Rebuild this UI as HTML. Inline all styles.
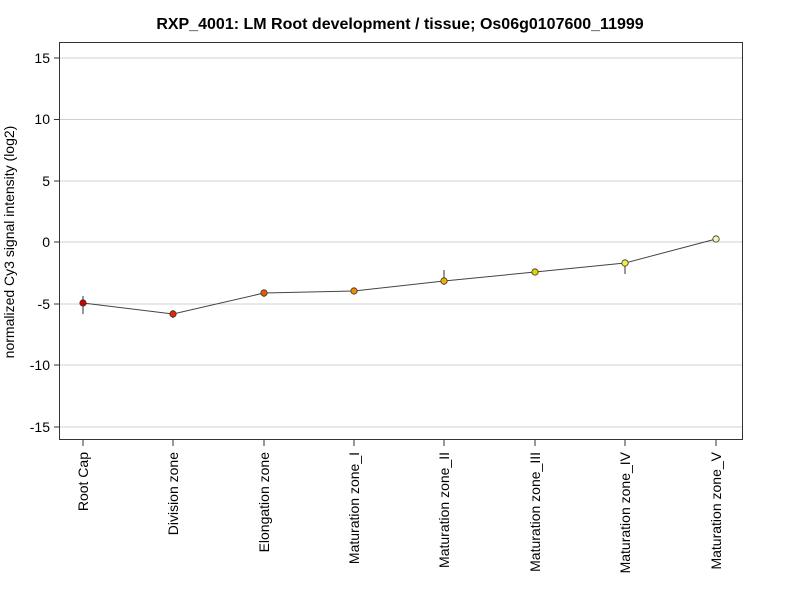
<!DOCTYPE html>
<html><head><meta charset="utf-8"><style>body{margin:0;background:#fff}svg{display:block}</style></head><body>
<svg width="800" height="600" xmlns="http://www.w3.org/2000/svg" font-family="Liberation Sans, Arial, sans-serif">
<rect width="800" height="600" fill="#fff"/>
<text x="400" y="29" text-anchor="middle" font-size="16" font-weight="bold">RXP_4001: LM Root development / tissue; Os06g0107600_11999</text>
<g stroke="#d0d0d0" stroke-width="1">
<line x1="59" x2="742" y1="58" y2="58"/><line x1="59" x2="742" y1="119.5" y2="119.5"/><line x1="59" x2="742" y1="181" y2="181"/><line x1="59" x2="742" y1="242" y2="242"/><line x1="59" x2="742" y1="304" y2="304"/><line x1="59" x2="742" y1="365" y2="365"/><line x1="59" x2="742" y1="427" y2="427"/>
</g>
<rect x="59.5" y="42.5" width="683" height="397" fill="none" stroke="#333"/>
<g stroke="#333"><line x1="54" x2="59" y1="58" y2="58"/><line x1="54" x2="59" y1="119.5" y2="119.5"/><line x1="54" x2="59" y1="181" y2="181"/><line x1="54" x2="59" y1="242" y2="242"/><line x1="54" x2="59" y1="304" y2="304"/><line x1="54" x2="59" y1="365" y2="365"/><line x1="54" x2="59" y1="427" y2="427"/></g>
<g font-size="14" text-anchor="end">
<text x="50" y="63">15</text><text x="50" y="124">10</text><text x="50" y="186">5</text><text x="50" y="247">0</text><text x="50" y="309">-5</text><text x="50" y="370">-10</text><text x="50" y="432">-15</text>
</g>
<text transform="translate(14,242) rotate(-90)" text-anchor="middle" font-size="14">normalized Cy3 signal intensity (log2)</text>
<g stroke="#333">
<line x1="83" x2="83" y1="440" y2="446"/><line x1="173" x2="173" y1="440" y2="446"/><line x1="264" x2="264" y1="440" y2="446"/><line x1="354" x2="354" y1="440" y2="446"/><line x1="444" x2="444" y1="440" y2="446"/><line x1="535" x2="535" y1="440" y2="446"/><line x1="625" x2="625" y1="440" y2="446"/><line x1="716" x2="716" y1="440" y2="446"/>
</g>
<g font-size="14" text-anchor="end">
<text transform="translate(88,452) rotate(-90)">Root Cap</text>
<text transform="translate(178,452) rotate(-90)">Division zone</text>
<text transform="translate(269,452) rotate(-90)">Elongation zone</text>
<text transform="translate(359,452) rotate(-90)">Maturation zone_I</text>
<text transform="translate(449,452) rotate(-90)">Maturation zone_II</text>
<text transform="translate(540,452) rotate(-90)">Maturation zone_III</text>
<text transform="translate(630,452) rotate(-90)">Maturation zone_IV</text>
<text transform="translate(721,452) rotate(-90)">Maturation zone_V</text>
</g>
<g stroke="#333" stroke-width="1">
<line x1="83" x2="83" y1="296" y2="314"/><line x1="173" x2="173" y1="310" y2="318"/><line x1="264" x2="264" y1="290" y2="297"/><line x1="444" x2="444" y1="270" y2="285"/><line x1="625" x2="625" y1="262" y2="274"/>
</g>
<polyline fill="none" stroke="#444" stroke-width="1" points="83,303 173,314 264,293 354,291 444,281 535,272 625,263 716,239"/>
<g stroke="#333" stroke-width="0.8">
<circle cx="83" cy="303" r="3.2" fill="#d40000"/>
<circle cx="173" cy="314" r="3.2" fill="#e02a00"/>
<circle cx="264" cy="293" r="3.2" fill="#e65a00"/>
<circle cx="354" cy="291" r="3.2" fill="#ee8c00"/>
<circle cx="444" cy="281" r="3.2" fill="#f2b000"/>
<circle cx="535" cy="272" r="3.2" fill="#e8d000"/>
<circle cx="625" cy="263" r="3.2" fill="#f4f040"/>
<circle cx="716" cy="239" r="3.2" fill="#f6f2b0"/>
</g>
</svg>
</body></html>
